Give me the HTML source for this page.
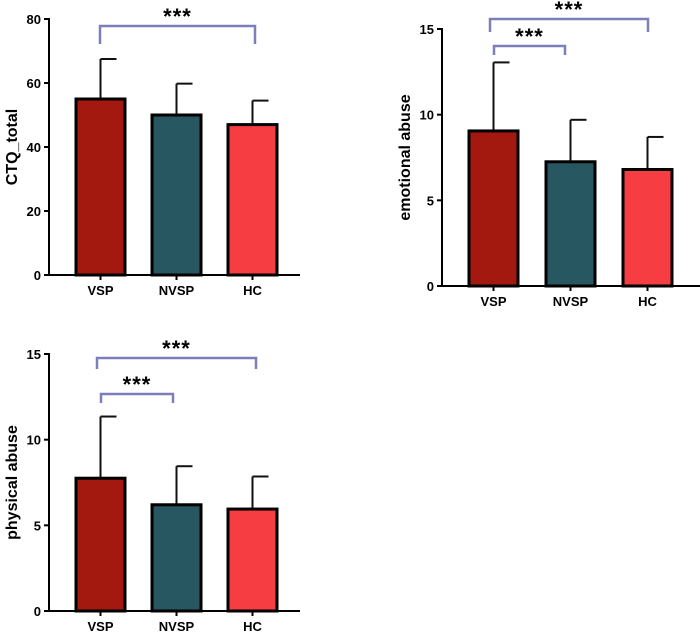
<!DOCTYPE html>
<html><head><meta charset="utf-8"><style>
html,body{margin:0;padding:0;background:#fff;}
svg{display:block;font-family:"Liberation Sans",Arial,sans-serif;}
</style></head><body>
<svg id="chart" width="700" height="635" viewBox="0 0 700 635"></svg>
<script>
const groups = ["VSP","NVSP","HC"];
const colors = ["#a3180f","#275761","#f53d42"];
const ctqMeans = [55, 50, 47];
const ctqSD = [67.5, 59.8, 54.5];
const ctqTicks = [0,20,40,60,80];
const emoMeans = [9.05, 7.25, 6.8];
const emoSD = [13.05, 9.7, 8.7];
const emoTicks = [0,5,10,15];
const phyMeans = [7.75, 6.2, 5.95];
const phySD = [11.35, 8.45, 7.85];
const phyTicks = [0,5,10,15];

const NS = "http://www.w3.org/2000/svg";
const svg = document.getElementById("chart");
function mk(tag, attrs, parent){
  const e = document.createElementNS(NS, tag);
  for (const k in attrs) e.setAttribute(k, attrs[k]);
  (parent||svg).appendChild(e);
  return e;
}
function panel(cfg){
  const g = mk("g", {});
  
  
  const yMax = cfg.ticks[cfg.ticks.length-1];
  const y = v => cfg.y0 - (v / yMax) * (cfg.y0 - cfg.yTop);
  const barW = 49;
  const x = i => cfg.firstBar + i * cfg.step;
  cfg.means.forEach((m,i)=>{
    const cx = x(i) + barW/2;
    const eb = mk("line", {x1:cx, x2:cx, y1:y(m), y2:y(cfg.sd[i]), stroke:"#111", "stroke-width":2}, g);
    
    
    const cap = mk("line", {x1:cx, x2:cx+16, y1:y(cfg.sd[i]), y2:y(cfg.sd[i]), stroke:"#111", "stroke-width":2}, g);
    
    
    const r = mk("rect", {x:x(i), y:y(m), width:barW, height:cfg.y0 - y(m), fill:colors[i], stroke:"#000", "stroke-width":3}, g);
    
    
    const t = mk("text", {x:cx, y:cfg.y0+20, "text-anchor":"middle", "font-size":13, "font-weight":"bold", fill:"#000"}, g);
    t.textContent = groups[i];
    
    
    const xt = mk("line", {x1:cx, x2:cx, y1:cfg.y0, y2:cfg.y0+5, stroke:"#000", "stroke-width":2}, g);
    
    
  });
  const ya = mk("line", {x1:cfg.axisX, x2:cfg.axisX, y1:cfg.yTop-1, y2:cfg.y0+1, stroke:"#000", "stroke-width":2}, g);
  
  
  const xa = mk("line", {x1:cfg.axisX, x2:cfg.axisEnd, y1:cfg.y0, y2:cfg.y0, stroke:"#000", "stroke-width":2}, g);
  
  
  cfg.ticks.forEach(tv=>{
    const tl = mk("line", {x1:cfg.axisX-5, x2:cfg.axisX, y1:y(tv), y2:y(tv), stroke:"#000", "stroke-width":2}, g);
    
    
    const tt = mk("text", {x:cfg.axisX-8, y:y(tv)+5, "text-anchor":"end", "font-size":13, "font-weight":"bold", fill:"#000"}, g);
    tt.textContent = tv;
    
    
  });
  const yt = mk("text", {x:0, y:0, transform:`translate(${cfg.axisX-32},${(cfg.y0+cfg.yTop)/2}) rotate(-90)`, "text-anchor":"middle", "font-size":16, "font-weight":"bold", fill:"#000"}, g);
  yt.textContent = cfg.title;
  
  
  cfg.brackets.forEach(b=>{
    const p = mk("path", {d:`M${b.x1},${b.yb} V${b.y} H${b.x2} V${b.yb}`, fill:"none", stroke:"#7d7fb8", "stroke-width":2.5}, g);
    
    
    const s = mk("text", {x:(b.x1+b.x2)/2, y:b.y-2, "text-anchor":"middle", "font-size":22, "font-weight":"bold", "letter-spacing":"1", fill:"#000"}, g);
    s.textContent = "***";
    
    
  });
}
panel({name:"ctq-total-panel", title:"CTQ_total", means:ctqMeans, sd:ctqSD, ticks:ctqTicks,
  axisX:49, axisEnd:300, y0:275, yTop:19, firstBar:76, step:76,
  brackets:[{x1:100,x2:255,y:26,yb:44}]});
panel({name:"emotional-abuse-panel", title:"emotional abuse", means:emoMeans, sd:emoSD, ticks:emoTicks,
  axisX:442, axisEnd:700, y0:286, yTop:29, firstBar:469, step:77,
  brackets:[{x1:490,x2:648,y:19,yb:32},{x1:494,x2:565,y:46,yb:55}]});
panel({name:"physical-abuse-panel", title:"physical abuse", means:phyMeans, sd:phySD, ticks:phyTicks,
  axisX:49, axisEnd:300, y0:611, yTop:354, firstBar:76, step:76,
  brackets:[{x1:97,x2:256,y:358,yb:369},{x1:101,x2:173,y:394,yb:403}]});
</script>
</body></html>
